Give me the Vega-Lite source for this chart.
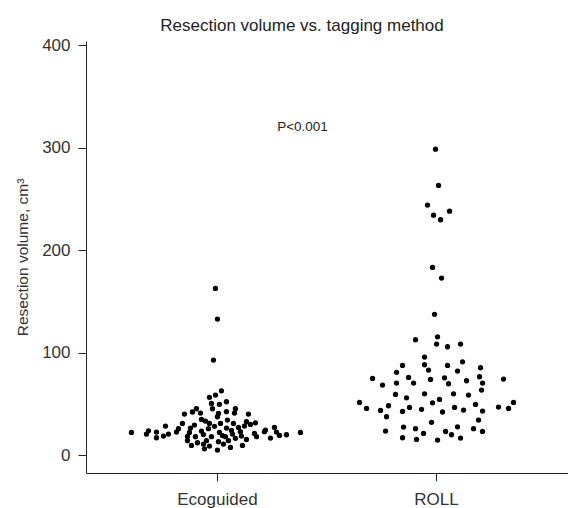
{
  "$schema": "https://vega.github.io/schema/vega-lite/v6.json",
  "width": 482,
  "height": 432,
  "autosize": "none",
  "padding": {"left": 86, "top": 41, "right": 0, "bottom": 35},
  "config": {"view": {"stroke": null}, "font": "Liberation Sans"},
  "title": {"text": "Resection volume vs. tagging method", "fontSize": 17, "fontWeight": "normal", "color": "#222", "offset": 1, "anchor": "middle", "dx": -25},
  "layer": [
    {
      "data": {"values": [
        {"m":"ROLL","dx":-1,"v":298.5},{"m":"ROLL","dx":2,"v":263.1},{"m":"ROLL","dx":-9,"v":243.9},{"m":"ROLL","dx":-3,"v":234.1},{"m":"ROLL","dx":4,"v":229.6},{"m":"ROLL","dx":13,"v":238},{"m":"ROLL","dx":-4,"v":183.1},{"m":"ROLL","dx":5,"v":172.7},
        {"m":"ROLL","dx":-2,"v":137.3},{"m":"ROLL","dx":1,"v":115.4},{"m":"ROLL","dx":-21,"v":112.5},{"m":"ROLL","dx":0,"v":108.3},{"m":"ROLL","dx":11,"v":105.7},{"m":"ROLL","dx":24,"v":108.3},{"m":"ROLL","dx":-12,"v":95.6},{"m":"ROLL","dx":-34,"v":87.5},{"m":"ROLL","dx":-12,"v":88.1},{"m":"ROLL","dx":-8,"v":82.9},{"m":"ROLL","dx":11,"v":87.5},{"m":"ROLL","dx":26,"v":91.0},{"m":"ROLL","dx":21,"v":82.0},{"m":"ROLL","dx":44,"v":85.2},{"m":"ROLL","dx":-40,"v":80.7},{"m":"ROLL","dx":-64,"v":74.8},{"m":"ROLL","dx":-28,"v":75.8},{"m":"ROLL","dx":-54,"v":68.3},{"m":"ROLL","dx":-40,"v":70.2},{"m":"ROLL","dx":-23,"v":70.2},{"m":"ROLL","dx":-6,"v":73.8},{"m":"ROLL","dx":8,"v":75.4},{"m":"ROLL","dx":12,"v":69.6},{"m":"ROLL","dx":30,"v":72.5},{"m":"ROLL","dx":43,"v":76.4},{"m":"ROLL","dx":46,"v":70.2},{"m":"ROLL","dx":67,"v":74.1},{"m":"ROLL","dx":45,"v":63.4},{"m":"ROLL","dx":-41,"v":59.2},{"m":"ROLL","dx":-30,"v":55.9},{"m":"ROLL","dx":-12,"v":59.8},{"m":"ROLL","dx":17,"v":59.8},{"m":"ROLL","dx":32,"v":58.5},{"m":"ROLL","dx":-77,"v":51.4},{"m":"ROLL","dx":-70,"v":45.5},{"m":"ROLL","dx":-56,"v":43.6},{"m":"ROLL","dx":-48,"v":48.1},{"m":"ROLL","dx":-50,"v":37.4},{"m":"ROLL","dx":-34,"v":42.6},{"m":"ROLL","dx":-27,"v":46.5},{"m":"ROLL","dx":-15,"v":44.6},{"m":"ROLL","dx":-4,"v":51.0},{"m":"ROLL","dx":3,"v":54.3},{"m":"ROLL","dx":6,"v":42.0},{"m":"ROLL","dx":18,"v":46.5},{"m":"ROLL","dx":27,"v":43.9},{"m":"ROLL","dx":39,"v":49.4},{"m":"ROLL","dx":46,"v":42.9},{"m":"ROLL","dx":62,"v":46.8},{"m":"ROLL","dx":72,"v":45.5},{"m":"ROLL","dx":77,"v":51.4},{"m":"ROLL","dx":42,"v":34.1},{"m":"ROLL","dx":-5,"v":31.9},{"m":"ROLL","dx":-33,"v":27.3},{"m":"ROLL","dx":-21,"v":25.7},{"m":"ROLL","dx":21,"v":27.6},{"m":"ROLL","dx":37,"v":25.7},{"m":"ROLL","dx":46,"v":23.1},{"m":"ROLL","dx":-51,"v":23.4},{"m":"ROLL","dx":-13,"v":21.1},{"m":"ROLL","dx":9,"v":23.1},{"m":"ROLL","dx":15,"v":19.8},{"m":"ROLL","dx":-34,"v":16.9},{"m":"ROLL","dx":-20,"v":15.3},{"m":"ROLL","dx":1,"v":14.6},{"m":"ROLL","dx":24,"v":16.6},
        {"m":"Ecoguided","dx":-2,"v":162.6},{"m":"Ecoguided","dx":0,"v":132.7},{"m":"Ecoguided","dx":-4,"v":92.7},
        {"m":"Ecoguided","dx":4,"v":62.7},{"m":"Ecoguided","dx":-2,"v":58.5},{"m":"Ecoguided","dx":-8,"v":56.3},{"m":"Ecoguided","dx":9,"v":52},{"m":"Ecoguided","dx":-6,"v":50.4},{"m":"Ecoguided","dx":2,"v":49.5},{"m":"Ecoguided","dx":-21,"v":45.2},{"m":"Ecoguided","dx":-25,"v":42},{"m":"Ecoguided","dx":-17,"v":41},{"m":"Ecoguided","dx":-33,"v":40},{"m":"Ecoguided","dx":-5,"v":45.2},{"m":"Ecoguided","dx":1,"v":40.6},{"m":"Ecoguided","dx":9,"v":42.3},{"m":"Ecoguided","dx":18,"v":45.2},{"m":"Ecoguided","dx":17,"v":41},{"m":"Ecoguided","dx":31,"v":40},{"m":"Ecoguided","dx":-16,"v":34.8},{"m":"Ecoguided","dx":-12,"v":33.2},{"m":"Ecoguided","dx":0,"v":37.4},{"m":"Ecoguided","dx":10,"v":34.1},{"m":"Ecoguided","dx":16,"v":30.9},{"m":"Ecoguided","dx":29,"v":32.5},{"m":"Ecoguided","dx":38,"v":31.5},{"m":"Ecoguided","dx":-35,"v":30.9},{"m":"Ecoguided","dx":-23,"v":29.3},{"m":"Ecoguided","dx":-8,"v":30.9},{"m":"Ecoguided","dx":3,"v":30.9},{"m":"Ecoguided","dx":-52,"v":28.3},{"m":"Ecoguided","dx":-39,"v":25.7},{"m":"Ecoguided","dx":-27,"v":26.3},{"m":"Ecoguided","dx":-16,"v":23.4},{"m":"Ecoguided","dx":-9,"v":25.7},{"m":"Ecoguided","dx":9,"v":26.3},{"m":"Ecoguided","dx":21,"v":26.9},{"m":"Ecoguided","dx":27,"v":28.3},{"m":"Ecoguided","dx":33,"v":29.9},{"m":"Ecoguided","dx":48,"v":24.4},{"m":"Ecoguided","dx":57,"v":26.9},{"m":"Ecoguided","dx":-86,"v":22.1},{"m":"Ecoguided","dx":-71,"v":20.5},{"m":"Ecoguided","dx":-69,"v":23.7},{"m":"Ecoguided","dx":-61,"v":22.4},{"m":"Ecoguided","dx":-54,"v":18.5},{"m":"Ecoguided","dx":-49,"v":20.5},{"m":"Ecoguided","dx":-41,"v":22.4},{"m":"Ecoguided","dx":-28,"v":22.1},{"m":"Ecoguided","dx":2,"v":22.1},{"m":"Ecoguided","dx":15,"v":20.5},{"m":"Ecoguided","dx":23,"v":22.8},{"m":"Ecoguided","dx":37,"v":21.1},{"m":"Ecoguided","dx":47,"v":22.8},{"m":"Ecoguided","dx":59,"v":22.4},{"m":"Ecoguided","dx":69,"v":19.8},{"m":"Ecoguided","dx":83,"v":22.1},{"m":"Ecoguided","dx":-61,"v":16.9},{"m":"Ecoguided","dx":-30,"v":18.2},{"m":"Ecoguided","dx":-22,"v":17.9},{"m":"Ecoguided","dx":-6,"v":17.9},{"m":"Ecoguided","dx":8,"v":17.9},{"m":"Ecoguided","dx":18,"v":16.3},{"m":"Ecoguided","dx":24,"v":18.5},{"m":"Ecoguided","dx":39,"v":17.9},{"m":"Ecoguided","dx":53,"v":16.6},{"m":"Ecoguided","dx":62,"v":19.2},{"m":"Ecoguided","dx":-30,"v":14},{"m":"Ecoguided","dx":-11,"v":14},{"m":"Ecoguided","dx":1,"v":13},{"m":"Ecoguided","dx":29,"v":15.3},{"m":"Ecoguided","dx":11,"v":14},{"m":"Ecoguided","dx":-26,"v":9.4},{"m":"Ecoguided","dx":-14,"v":10.7},{"m":"Ecoguided","dx":-8,"v":8.8},{"m":"Ecoguided","dx":6,"v":10.7},{"m":"Ecoguided","dx":13,"v":7.5},{"m":"Ecoguided","dx":25,"v":9.4},{"m":"Ecoguided","dx":-13,"v":6.1},{"m":"Ecoguided","dx":0,"v":4.9},{"m":"Ecoguided","dx":-20,"v":12},{"m":"Ecoguided","dx":-3,"v":28},{"m":"Ecoguided","dx":14,"v":24},{"m":"Ecoguided","dx":-14,"v":20},{"m":"Ecoguided","dx":5,"v":19}
      ]},
      "mark": {"type": "circle", "color": "black", "opacity": 1, "size": 28},
      "encoding": {
        "x": {"field": "m", "type": "nominal", "scale": {"type": "band", "domain": ["Ecoguided", "ROLL"], "paddingInner": 0, "paddingOuter": 0.1},
              "axis": {"title": null, "labelAngle": 0, "labelFontSize": 17, "labelColor": "#333", "tickSize": 8, "tickColor": "#222", "domainColor": "#222", "labelPadding": 10}},
        "xOffset": {"field": "dx", "type": "quantitative", "scale": {"domain": [-109.545, 109.545], "range": [0, 219.09]}},
        "y": {"field": "v", "type": "quantitative", "scale": {"domain": [-17.5, 404], "nice": false, "zero": false},
              "axis": {"values": [0, 100, 200, 300, 400], "title": "Resection volume, cm³", "titleFontWeight": "normal", "titleFontSize": 15.5, "titleColor": "#333", "titlePadding": 11, "labelFontSize": 17, "labelColor": "#333", "tickSize": 8, "tickColor": "#222", "domainColor": "#222", "grid": false, "labelPadding": 8}}
      }
    },
    {
      "mark": {"type": "rule", "color": "#222", "strokeWidth": 1},
      "encoding": {"y": {"datum": 404}}
    },
    {
      "data": {"values": [{"m": "Ecoguided", "dx": 85, "v": 320, "t": "P<0.001"}]},
      "mark": {"type": "text", "fontSize": 13.5, "color": "#222"},
      "encoding": {
        "x": {"field": "m", "type": "nominal"},
        "xOffset": {"field": "dx", "type": "quantitative"},
        "y": {"field": "v", "type": "quantitative"},
        "text": {"field": "t"}
      }
    }
  ]
}
